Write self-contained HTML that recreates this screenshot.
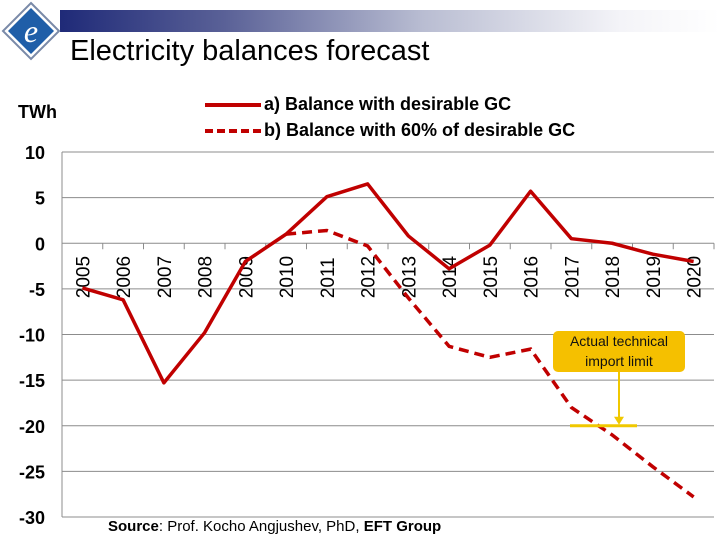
<!DOCTYPE html>
<html><head><meta charset="utf-8"><style>
body{margin:0;width:720px;height:540px;background:#fff;overflow:hidden;font-family:"Liberation Sans",sans-serif;position:relative}
</style></head><body>
<div style="position:absolute;left:60px;top:10px;width:660px;height:22px;background:linear-gradient(to right,#1f2a78 0%,#5a6197 25%,#b9bdd2 55%,#f4f4f8 85%,#fff 100%)"></div>
<svg style="position:absolute;left:0;top:0" width="62" height="62">
<polygon points="31,3 59,31 31,59 3,31" fill="#fff" stroke="#7a8aa8" stroke-width="2"/>
<polygon points="31,8 54,31 31,54 8,31" fill="#1f5ea8"/>
<text x="31" y="42" font-size="32" font-style="italic" fill="#fff" text-anchor="middle" font-family="Liberation Serif,serif">e</text>
</svg>
<div style="position:absolute;left:70px;top:35px;font-size:29px;color:#000">Electricity balances forecast</div>
<svg id="chart" width="720" height="540" style="position:absolute;left:0;top:0"></svg>
<script>
const years=["2005","2006","2007","2008","2009","2010","2011","2012","2013","2014","2015","2016","2017","2018","2019","2020"];
const balanceA=[-4.9,-6.2,-15.3,-9.8,-2,1,5.1,6.5,0.8,-2.8,-0.2,5.7,0.5,0,-1.2,-2];
const balanceB=[null,null,null,null,null,1,1.4,-0.3,-6,-11.3,-12.5,-11.6,-18,-21,-24.5,-27.8];
const yTicks=[10,5,0,-5,-10,-15,-20,-25,-30];
const importLimit=-20;
const svg=document.getElementById('chart');const NS='http://www.w3.org/2000/svg';
const X0=62,X1=714,Y0=152,Y1=517;
const step=(X1-X0)/16;
const xs=i=>X0+step*(i+0.5);
const ys=v=>Y0+(10-v)*(Y1-Y0)/40;
function mk(t,a,p){const e=document.createElementNS(NS,t);for(const k in a)e.setAttribute(k,a[k]);(p||svg).appendChild(e);return e;}
yTicks.forEach(v=>{
 const l=mk('line',{x1:X0,x2:X1,y1:ys(v),y2:ys(v),stroke:'#8c8c8c','stroke-width':1});
 
 
 const t=mk('text',{x:45,y:ys(v)+7,'text-anchor':'end','font-size':18,'font-weight':'bold',fill:'#000'});
 t.textContent=v;
 
 
});
const ax=mk('line',{x1:X0,x2:X0,y1:Y0,y2:Y1,stroke:'#8c8c8c'});


for(let i=0;i<=16;i++){const tk=mk('line',{x1:X0+step*i,x2:X0+step*i,y1:ys(0),y2:ys(0)+6,stroke:'#8c8c8c'});
 
 }
years.forEach((y,i)=>{
 const t=mk('text',{x:0,y:0,transform:`translate(${xs(i)+7},${ys(0)+55}) rotate(-90)`,'font-size':19,fill:'#000'});
 t.textContent=y;
 
 
});
function path(arr){let d='';arr.forEach((v,i)=>{if(v===null)return;d+=(d?'L':'M')+xs(i)+','+ys(v);});return d;}
const pa=mk('path',{d:path(balanceA),fill:'none',stroke:'#c00000','stroke-width':3.5,'stroke-linejoin':'round'});


const pb=mk('path',{d:path(balanceB),fill:'none',stroke:'#c00000','stroke-width':3.5,'stroke-dasharray':'10,6'});


const lim=mk('line',{x1:570,x2:637,y1:ys(importLimit),y2:ys(importLimit),stroke:'#f0c800','stroke-width':3});


const ar=mk('line',{x1:619,x2:619,y1:372,y2:ys(importLimit)-4,stroke:'#f0c800','stroke-width':2});


const ah=mk('polygon',{points:`614,${ys(importLimit)-9} 624,${ys(importLimit)-9} 619,${ys(importLimit)-1}`,fill:'#f0c800'});


</script>
<div style="position:absolute;left:553px;top:331px;width:132px;height:41px;background:#f5c000;border-radius:5px;font-size:14px;text-align:center;line-height:20px;color:#111">Actual technical<br>import limit</div>
<div style="position:absolute;left:18px;top:102px;font-size:18px;font-weight:bold">TWh</div>
<div style="position:absolute;left:205px;top:91px;font-size:18px;font-weight:bold;color:#000;line-height:26px">
<div><span style="display:inline-block;width:56px;border-top:4px solid #c00000;vertical-align:middle;margin-right:3px"></span>a) Balance with desirable GC</div>
<div><span style="display:inline-block;width:56px;border-top:4px dashed #c00000;vertical-align:middle;margin-right:3px"></span>b) Balance with 60% of desirable GC</div>
</div>
<div style="position:absolute;left:108px;top:518px;font-size:15px"><b>Source</b>: Prof. Kocho Angjushev, PhD, <b>EFT Group</b></div>
</body></html>
